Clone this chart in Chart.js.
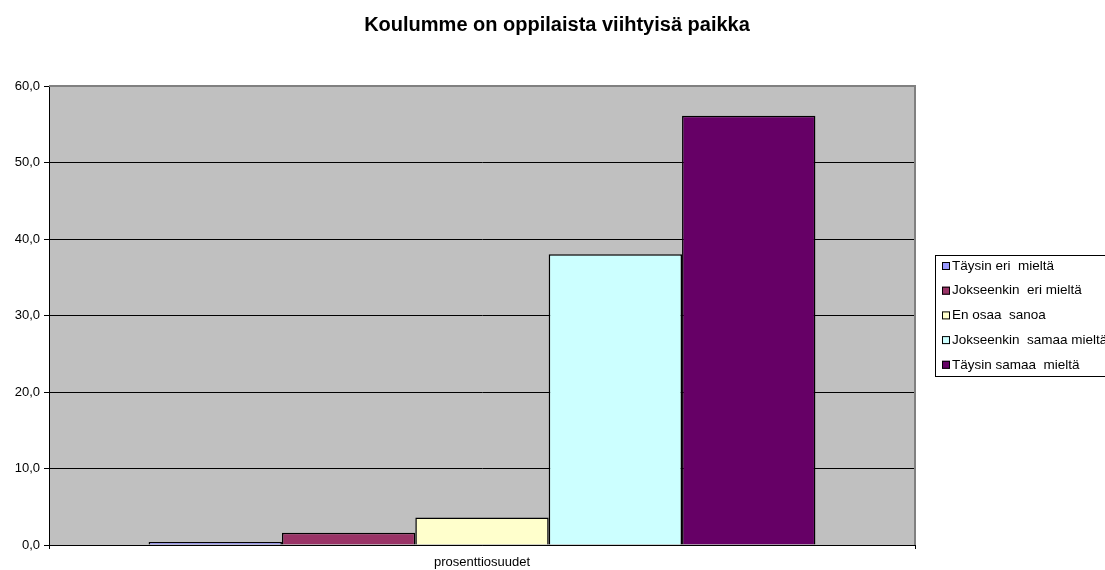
<!DOCTYPE html>
<html>
<head>
<meta charset="utf-8">
<script src="https://cdn.jsdelivr.net/npm/chart.js@4/dist/chart.umd.min.js"></script>
<style>
  html, body { margin: 0; padding: 0; background: #fff; }
  canvas { display: block; }
</style>
</head>
<body>
<canvas id="c" width="1105" height="570"></canvas>
<script>
// chart data
const titleText = 'Koulumme on oppilaista viihtyisä paikka';
const categories = ['prosenttiosuudet'];
const seriesLabels = ['Täysin eri  mieltä', 'Jokseenkin  eri mieltä', 'En osaa  sanoa', 'Jokseenkin  samaa mieltä', 'Täysin samaa  mieltä'];
const seriesValues = [0.4, 1.6, 3.6, 38.0, 56.1];
const seriesColors = ['#9999FF', '#993366', '#FFFFCC', '#CCFFFF', '#660066'];
const yMin = 0, yMax = 60, yStep = 10;

const FONT = 'Arial, "Liberation Sans", sans-serif';

// grey plot background + frame, title and legend box (Excel style)
const excelLook = {
    id: 'excelLook',
    beforeDraw(chart) {
        const { ctx, chartArea: a } = chart;
        ctx.save();
        ctx.fillStyle = '#C0C0C0';
        ctx.fillRect(a.left, a.top, a.right - a.left, a.bottom - a.top);
        ctx.restore();
    },
    afterDraw(chart) {
        const { ctx, chartArea: a } = chart;
        ctx.save();
        // grey frame top/right
        ctx.strokeStyle = '#808080';
        ctx.lineWidth = 2;
        ctx.beginPath();
        ctx.moveTo(a.left, a.top);
        ctx.lineTo(a.right, a.top);
        ctx.lineTo(a.right, a.bottom);
        ctx.stroke();

        // title
        ctx.fillStyle = '#000';
        ctx.font = 'bold 20px ' + FONT;
        ctx.textAlign = 'center';
        ctx.textBaseline = 'middle';
        ctx.fillText(titleText, 557, 25);

        // legend
        ctx.lineWidth = 1;
        ctx.strokeStyle = '#000';
        ctx.strokeRect(935.5, 255.5, 200, 121);
        ctx.font = '13.5px ' + FONT;
        ctx.textAlign = 'left';
        chart.data.datasets.forEach((ds, i) => {
            const y = 266 + i * 24.7;
            ctx.fillStyle = ds.backgroundColor;
            ctx.fillRect(942, y - 4, 8, 8);
            ctx.strokeStyle = '#000';
            ctx.strokeRect(942.5, y - 3.5, 7, 7);
            ctx.fillStyle = '#000';
            ctx.fillText(ds.label, 952, y);
        });
        ctx.restore();
    }
};

new Chart(document.getElementById('c'), {
    type: 'bar',
    data: {
        labels: categories,
        datasets: seriesLabels.map((lbl, i) => ({
            label: lbl,
            data: [seriesValues[i]],
            backgroundColor: seriesColors[i],
            borderColor: '#000',
            borderWidth: 1.5,
            barPercentage: 1,
            categoryPercentage: 0.77
        }))
    },
    options: {
        responsive: false,
        animation: false,
        devicePixelRatio: 1,
        layout: { padding: { top: 86, right: 190, left: 0, bottom: 0 } },
        plugins: {
            legend: { display: false },
            title: { display: false },
            tooltip: { enabled: false }
        },
        scales: {
            x: {
                afterFit: s => { s.height = 25; },
                grid: { display: true, drawOnChartArea: false, offset: true, color: '#000', tickLength: 4 },
                border: { display: true, color: '#000', width: 1 },
                ticks: { color: '#000', font: { family: FONT, size: 13 }, padding: 6 }
            },
            y: {
                min: yMin,
                max: yMax,
                afterFit: s => { s.width = 49; },
                grid: {
                    color: c => c.tick.value === yMax ? 'rgba(0,0,0,0)' : '#000',
                    tickColor: '#000',
                    tickLength: 5
                },
                border: { display: true, color: '#000', width: 1 },
                ticks: {
                    stepSize: yStep,
                    color: '#000',
                    font: { family: FONT, size: 13 },
                    padding: 4,
                    callback: v => v.toFixed(1).replace('.', ',')
                }
            }
        }
    },
    plugins: [excelLook]
});
</script>
</body>
</html>
